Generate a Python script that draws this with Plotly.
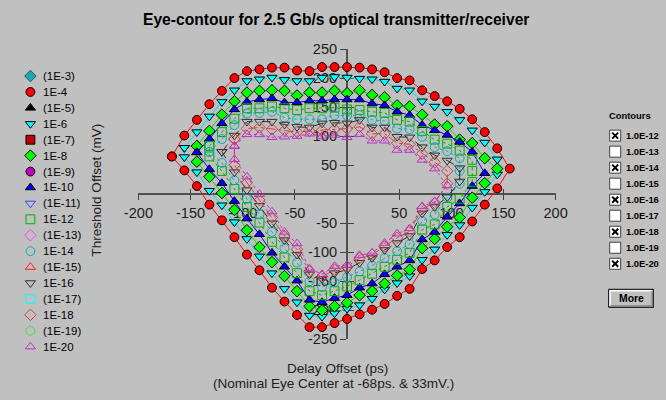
import plotly.graph_objects as go

W, H = 666, 400
BG = "#c0c0c0"

# ---------------- data ----------------
X_TICKS = [-200, -150, -100, -50, 50, 100, 150, 200]
Y_TICKS = [-250, -200, -150, -100, -50, 50, 100, 150, 200, 250]

LEGEND_LABELS = ["(1E-3)", "1E-4", "(1E-5)", "1E-6", "(1E-7)", "1E-8", "(1E-9)", "1E-10",
                 "(1E-11)", "1E-12", "(1E-13)", "1E-14", "(1E-15)", "1E-16", "(1E-17)",
                 "1E-18", "(1E-19)", "1E-20"]
CONTOUR_LABELS = ["1.0E-12", "1.0E-13", "1.0E-14", "1.0E-15", "1.0E-16",
                  "1.0E-17", "1.0E-18", "1.0E-19", "1.0E-20"]
CONTOUR_CHECKED = [True, False, True, False, True, False, True, False, True]

E4 = [(-168, 65), (-156, 101), (-144, 128), (-132, 155), (-120, 178), (-108, 200), (-96, 212),
      (-84, 215), (-72, 218), (-60, 218), (-48, 213), (-36, 212), (-24, 219), (-12, 219), (0, 219),
      (12, 218), (24, 215), (36, 210), (48, 200), (60, 196), (72, 179), (84, 169), (96, 160),
      (108, 147), (120, 129), (132, 107), (144, 79), (156, 44), (144, 10), (132, -18), (120, -47),
      (108, -74), (96, -91), (84, -114), (72, -129), (60, -163), (48, -175), (36, -189), (24, -199),
      (12, -207), (0, -215), (-12, -222), (-24, -229), (-36, -229), (-48, -208), (-60, -185),
      (-72, -161), (-84, -131), (-96, -104), (-108, -74), (-120, -45), (-132, -18), (-144, 14),
      (-156, 41), (-168, 65)]

E6 = [(-156, 80), (-144, 107), (-132, 134), (-120, 159), (-108, 179), (-96, 195), (-84, 198),
      (-72, 201), (-60, 197), (-48, 195), (-36, 195), (-24, 201), (-12, 202), (0, 201), (12, 199),
      (24, 198), (36, 194), (48, 182), (60, 179), (72, 160), (84, 151), (96, 142), (108, 128),
      (120, 110), (132, 89), (144, 60), (144, 34), (132, 4), (120, -23), (108, -53), (96, -70),
      (84, -95), (72, -113), (60, -141), (48, -153), (36, -164), (24, -180), (12, -191), (0, -197),
      (-12, -205), (-24, -211), (-36, -209), (-48, -186), (-60, -163), (-72, -136), (-84, -107),
      (-96, -77), (-108, -48), (-120, -19), (-132, 6), (-144, 38), (-156, 64), (-156, 80)]

E8 = [(-144, 83), (-132, 109), (-120, 137), (-108, 160), (-96, 175), (-84, 178), (-72, 179),
      (-60, 178), (-48, 170), (-36, 175), (-24, 175), (-12, 178), (0, 174), (12, 179), (24, 171),
      (36, 167), (48, 153), (60, 151), (72, 137), (84, 120), (96, 117), (108, 94), (120, 88),
      (132, 62), (144, 44), (132, 19), (120, -6), (108, -40), (96, -56), (84, -77), (72, -93),
      (60, -130), (48, -140), (36, -154), (24, -167), (12, -174), (0, -187), (-12, -193),
      (-24, -200), (-36, -193), (-48, -167), (-60, -141), (-72, -117), (-84, -91), (-96, -62),
      (-108, -27), (-120, 2), (-132, 30), (-144, 56), (-144, 83)]

E10 = [(-144, 72), (-132, 95), (-120, 122), (-108, 146), (-96, 159), (-84, 163), (-72, 165),
       (-60, 158), (-48, 158), (-36, 161), (-24, 161), (-12, 163), (0, 163), (12, 163), (24, 156),
       (36, 153), (48, 142), (60, 136), (72, 119), (84, 110), (96, 102), (108, 90), (120, 73),
       (132, 36), (120, 14), (108, -16), (96, -39), (84, -65), (72, -78), (60, -114), (48, -125),
       (36, -138), (24, -154), (12, -161), (0, -174), (-12, -179), (-24, -186), (-36, -182),
       (-48, -149), (-60, -125), (-72, -101), (-84, -69), (-96, -42), (-108, -12), (-120, 19),
       (-132, 43), (-144, 72)]

E12 = [(-132, 83), (-120, 107), (-108, 130), (-96, 148), (-84, 148), (-72, 151), (-60, 148),
       (-48, 145), (-36, 148), (-24, 148), (-12, 149), (0, 146), (12, 145), (24, 142), (36, 140),
       (48, 128), (60, 125), (72, 109), (84, 94), (96, 87), (108, 75), (120, 59), (120, 40),
       (120, 21), (108, -8), (96, -22), (84, -52), (72, -61), (60, -101), (48, -113), (36, -125),
       (24, -137), (12, -148), (0, -159), (-12, -167), (-24, -174), (-36, -167), (-48, -136),
       (-60, -109), (-72, -82), (-84, -49), (-96, -22), (-108, 9), (-120, 40), (-132, 65),
       (-132, 83)]

E14 = [(-132, 73), (-120, 95), (-108, 119), (-96, 139), (-84, 140), (-72, 142), (-60, 132),
       (-48, 129), (-36, 129), (-24, 129), (-12, 136), (0, 135), (12, 136), (24, 128), (36, 126),
       (48, 113), (60, 112), (72, 99), (84, 81), (96, 74), (108, 62), (108, 40), (108, 18),
       (96, -6), (84, -35), (72, -46), (60, -86), (48, -98), (36, -110), (24, -123), (12, -133),
       (0, -143), (-12, -152), (-24, -160), (-36, -150), (-48, -118), (-60, -93), (-72, -65),
       (-84, -35), (-96, -8), (-108, 24), (-120, 54), (-132, 73)]

E16 = [(-120, 73), (-108, 101), (-96, 125), (-84, 125), (-72, 125), (-60, 120), (-48, 116),
       (-36, 115), (-24, 122), (-12, 123), (0, 122), (12, 128), (24, 115), (36, 115), (48, 99),
       (60, 98), (72, 81), (84, 67), (96, 58), (108, 45), (108, 22), (96, -5), (84, -22),
       (72, -33), (60, -72), (48, -84), (36, -96), (24, -110), (12, -118), (0, -130), (-12, -136),
       (-24, -146), (-36, -138), (-48, -104), (-60, -79), (-72, -50), (-84, -20), (-96, 7),
       (-108, 38), (-120, 73)]

E18 = [(-108, 95), (-96, 113), (-84, 115), (-72, 112), (-60, 110), (-48, 107), (-36, 109),
       (-24, 110), (-12, 112), (0, 113), (12, 116), (24, 104), (36, 104), (48, 88), (60, 86),
       (72, 70), (84, 55), (96, 40), (96, 18), (84, -15), (72, -25), (60, -64), (48, -75),
       (36, -90), (24, -104), (12, -110), (0, -125), (-12, -130), (-24, -142), (-36, -133),
       (-48, -95), (-60, -72), (-72, -40), (-84, -10), (-96, 20), (-108, 50), (-108, 95)]

E20 = [(-108, 83), (-96, 103), (-84, 103), (-72, 98), (-60, 99), (-48, 100), (-36, 104),
       (-24, 100), (-12, 102), (0, 98), (12, 103), (24, 92), (36, 92), (48, 76), (60, 76),
       (72, 59), (84, 44), (96, 15), (84, -13), (72, -21), (60, -59), (48, -68), (36, -84),
       (24, -101), (12, -105), (0, -122), (-12, -124), (-24, -138), (-36, -128), (-48, -85),
       (-60, -65), (-72, -30), (-84, 0), (-96, 30), (-108, 60), (-108, 83)]

# ---------------- styles ----------------
SERIES = [
    ("1E-4", E4, "circle", "#ff0000", "#000000", "#ff0000", "solid"),
    ("1E-6", E6, "triangle-down", "#00ffff", "#000000", "#00e0e0", "solid"),
    ("1E-8", E8, "diamond", "#00ff00", "#000000", "#00e000", "solid"),
    ("1E-10", E10, "triangle-up", "#0000ff", "#000000", "#0000ff", "solid"),
    ("1E-12", E12, "square-open", "#00b000", "#00b000", "#00b000", "dot"),
    ("1E-14", E14, "circle-open", "#00b0b0", "#00b0b0", "#00b0b0", "dot"),
    ("1E-16", E16, "triangle-down-open", "#303030", "#303030", "#303030", "dash"),
    ("1E-18", E18, "diamond-open", "#d04040", "#d04040", "#d04040", "dashdot"),
    ("1E-20", E20, "triangle-up-open", "#c030c0", "#c030c0", "#c030c0", "dot"),
]

LEG_SYMBOLS = ["diamond", "circle", "triangle-up", "triangle-down", "square", "diamond", "circle",
               "triangle-up", "triangle-down-open", "square-open", "diamond-open", "circle-open",
               "triangle-up-open", "triangle-down-open", "square-open", "diamond-open",
               "circle-open", "triangle-up-open"]
LEG_FILL = ["#20a8a8", "#ff0000", "#000000", "#00ffff", "#c00000", "#00ff00", "#c000c0", "#0000ff",
            "#4040ff", "#00b000", "#ff40ff", "#00b0b0", "#ff2020", "#303030", "#00ffff", "#d04040",
            "#40e040", "#c030c0"]
LEG_EDGE = ["#106060", "#000000", "#000000", "#000000", "#000000", "#000000", "#000000", "#000000",
            "#4040ff", "#00b000", "#ff40ff", "#00b0b0", "#ff2020", "#303030", "#00ffff", "#d04040",
            "#40e040", "#c030c0"]

# ---------------- layout (picture pixels -> page pixels) ----------------
S, OX, OY = 0.959, 14.6, 8.0          # measured viewer scale / offset


def PX(x):
    return (x - OX) / S


def PY(y):
    return (y - OY) / S


def F(size):
    return size / S


PLOT_L, PLOT_R, PLOT_T, PLOT_B = PX(138), PX(555), PY(49), PY(339)
AX_X0 = (PLOT_L + PLOT_R) / 2
AX_Y0 = (PLOT_T + PLOT_B) / 2
LEG_X, LEG_Y0, LEG_DY = 30, 76, 15.9
CB_X, CB_Y0, CB_DY = 614.5, 135.5, 16

fig = go.Figure()

for name, pts, sym, fill, edge, lcol, dash in SERIES:
    xs = [p[0] for p in pts]
    ys = [p[1] for p in pts]
    fig.add_trace(go.Scatter(
        x=xs, y=ys, mode="lines+markers", name=name,
        line=dict(color=lcol, width=1, dash=dash),
        marker=dict(symbol=sym, size=F(8.5), color=fill, line=dict(color=edge, width=1)),
        hoverinfo="skip"))

# dummy trace for the crossing (inside) ticks
fig.add_trace(go.Scatter(x=[None], y=[None], xaxis="x3", yaxis="y3", showlegend=False))

# manual legend (pixel axis)
leg_y = [PY(LEG_Y0 + LEG_DY * i) for i in range(len(LEGEND_LABELS))]
fig.add_trace(go.Scatter(
    x=[PX(LEG_X)] * len(LEGEND_LABELS), y=leg_y, mode="markers", xaxis="x2", yaxis="y2",
    marker=dict(symbol=LEG_SYMBOLS, size=F(8.5), color=LEG_FILL, line=dict(color=LEG_EDGE, width=1)),
    hoverinfo="skip", showlegend=False))

annotations = []
for lab, yy in zip(LEGEND_LABELS, leg_y):
    annotations.append(dict(x=PX(LEG_X + 11), y=yy, xref="x2", yref="y2", text=lab,
                            showarrow=False, xanchor="left", yanchor="middle",
                            font=dict(family="Arial", size=F(11), color="#000000")))

# titles
annotations.append(dict(x=PX(335), y=PY(19), xref="x2", yref="y2", showarrow=False,
                        text="<b>Eye-contour for 2.5 Gb/s optical transmitter/receiver</b>",
                        font=dict(family="Arial", size=F(15), color="#000000")))
annotations.append(dict(x=PX(96), y=PY(190), xref="x2", yref="y2", showarrow=False,
                        textangle=-90, text="Threshold Offset (mV)",
                        font=dict(family="Arial", size=F(13), color="#202020")))
annotations.append(dict(x=PX(337), y=PY(368), xref="x2", yref="y2", showarrow=False,
                        text="Delay Offset (ps)",
                        font=dict(family="Arial", size=F(13), color="#202020")))
annotations.append(dict(x=PX(333), y=PY(383), xref="x2", yref="y2", showarrow=False,
                        text="(Nominal Eye Center at -68ps. & 33mV.)",
                        font=dict(family="Arial", size=F(13), color="#202020")))

# right panel
annotations.append(dict(x=PX(606), y=PY(116), xref="x2", yref="y2", showarrow=False,
                        xanchor="left", text="<b>Contours</b>",
                        font=dict(family="Arial", size=F(9), color="#000000")))
shapes = []
for i, (lab, chk) in enumerate(zip(CONTOUR_LABELS, CONTOUR_CHECKED)):
    cy = CB_Y0 + CB_DY * i
    shapes.append(dict(type="rect", xref="x2", yref="y2", x0=PX(CB_X - 5.5), x1=PX(CB_X + 5.5),
                       y0=PY(cy - 5.5), y1=PY(cy + 5.5), fillcolor="#ffffff",
                       line=dict(color="#404040", width=1)))
    if chk:
        for a, b in ((-3, 3), (3, -3)):
            shapes.append(dict(type="line", xref="x2", yref="y2", x0=PX(CB_X + a),
                               x1=PX(CB_X + b), y0=PY(cy - 3), y1=PY(cy + 3),
                               line=dict(color="#000000", width=2)))
    annotations.append(dict(x=PX(CB_X + 9), y=PY(cy), xref="x2", yref="y2", showarrow=False,
                            xanchor="left", yanchor="middle", text="<b>%s</b>" % lab,
                            font=dict(family="Arial", size=F(9), color="#000000")))

# "More" button
BX0, BX1, BY0, BY1 = PX(608), PX(653), PY(289), PY(307)
shapes.append(dict(type="rect", xref="x2", yref="y2", x0=BX0, x1=BX1, y0=BY0, y1=BY1,
                   fillcolor=BG, line=dict(color="#000000", width=1)))
shapes.append(dict(type="path", xref="x2", yref="y2",
                   path="M %.1f %.1f L %.1f %.1f L %.1f %.1f" % (
                       BX0 + 1.5, BY1 - 1.5, BX0 + 1.5, BY0 + 1.5, BX1 - 1.5, BY0 + 1.5),
                   line=dict(color="#ffffff", width=1.5)))
shapes.append(dict(type="path", xref="x2", yref="y2",
                   path="M %.1f %.1f L %.1f %.1f L %.1f %.1f" % (
                       BX0 + 1.5, BY1 - 1.5, BX1 - 1.5, BY1 - 1.5, BX1 - 1.5, BY0 + 1.5),
                   line=dict(color="#808080", width=1.5)))
annotations.append(dict(x=(BX0 + BX1) / 2, y=(BY0 + BY1) / 2, xref="x2", yref="y2",
                        showarrow=False, text="<b>More</b>",
                        font=dict(family="Arial", size=F(10), color="#000000")))

axis_common = dict(showgrid=False, zeroline=False, fixedrange=True)
tickfont = dict(family="Arial", size=F(14), color="#202020")
fig.update_layout(
    width=W, height=H, margin=dict(l=0, r=0, t=0, b=0, pad=0), autosize=False,
    paper_bgcolor=BG, plot_bgcolor="rgba(0,0,0,0)", showlegend=False,
    xaxis=dict(domain=[PLOT_L / W, PLOT_R / W], range=[-200, 200], anchor="free",
               position=(H - AX_Y0) / H, tickvals=X_TICKS, ticktext=[str(v) for v in X_TICKS],
               ticks="outside", ticklen=5, tickwidth=1, tickcolor="#404040", showline=True,
               linecolor="#505050", linewidth=2, tickfont=tickfont, layer="below traces",
               **axis_common),
    yaxis=dict(domain=[(H - PLOT_B) / H, (H - PLOT_T) / H], range=[-250, 250], anchor="free",
               position=AX_X0 / W, tickvals=Y_TICKS, ticktext=[str(v) for v in Y_TICKS],
               ticks="outside", ticklen=6, tickwidth=1, tickcolor="#404040", showline=True,
               linecolor="#505050", linewidth=2, tickfont=tickfont, layer="below traces",
               **axis_common),
    xaxis3=dict(overlaying="x", range=[-200, 200], anchor="free", position=(H - AX_Y0) / H,
                tickvals=X_TICKS, ticks="inside", ticklen=5, tickwidth=1, tickcolor="#404040",
                showticklabels=False, showline=False, layer="below traces", **axis_common),
    yaxis3=dict(overlaying="y", range=[-250, 250], anchor="free", position=AX_X0 / W,
                tickvals=Y_TICKS, ticks="inside", ticklen=6, tickwidth=1, tickcolor="#404040",
                showticklabels=False, showline=False, layer="below traces", **axis_common),
    xaxis2=dict(domain=[0, 1], range=[0, W], visible=False, anchor="y2", **axis_common),
    yaxis2=dict(domain=[0, 1], range=[H, 0], visible=False, anchor="x2", **axis_common),
    annotations=annotations, shapes=shapes,
)

fig.write_html(
    "out.html", config={"responsive": False, "displayModeBar": False},
    post_script=("document.documentElement.style.background='%s';"
                 "document.body.style.background='%s';"
                 "document.body.style.margin='0';"
                 "document.body.style.overflow='hidden';") % (BG, BG))
